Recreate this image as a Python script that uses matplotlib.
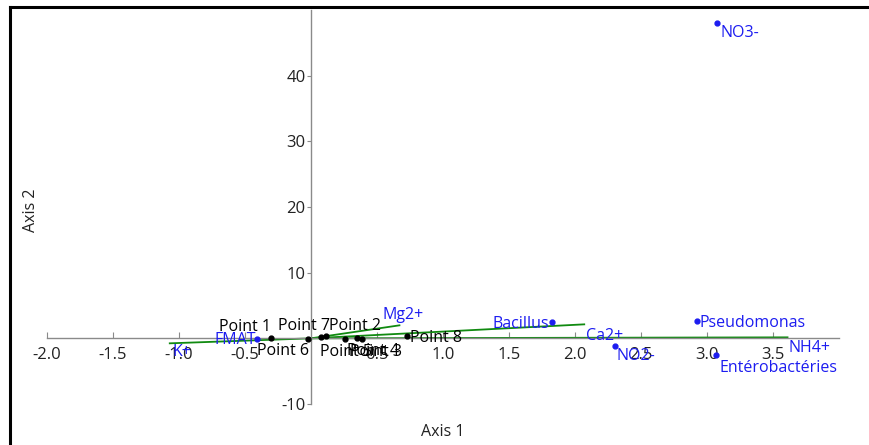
import matplotlib
matplotlib.use("Agg")
import matplotlib.pyplot as plt
from matplotlib.lines import Line2D

plt.rcParams['font.family'] = ['Open Sans', 'DejaVu Sans']

# site scores (black)
site_names = ["Point 1", "Point 2", "Point 3", "Point 4", "Point 5", "Point 6", "Point 7", "Point 8"]
site_x = [-0.305, 0.117, 0.386, 0.352, 0.261, -0.019, 0.072, 0.731]
site_y = [0.05, 0.30, -0.08, 0.08, -0.12, -0.15, 0.15, 0.33]

# species / variables drawn as dots (blue)
sp_names = ["FMAT", "Bacillus", "Pseudomonas", "Entérobactéries", "NO3-", "NO2-"]
sp_x = [-0.41, 1.826, 2.924, 3.07, 3.076, 2.30]
sp_y = [-0.15, 2.44, 2.59, -2.59, 47.95, -1.22]

# vectors from the origin (green)
vec_names = ["K+", "Mg2+", "Ca2+", "NH4+"]
vec_x = [-1.07, 0.67, 2.07, 3.61]
vec_y = [-0.76, 1.98, 2.13, 0.15]

xticks = [-2.0, -1.5, -1.0, -0.5, 0.5, 1.0, 1.5, 2.0, 2.5, 3.0, 3.5]
yticks = [-10, 10, 20, 30, 40]

# label offsets in pixels (dx, dy, ha)
site_off = {
    "Point 1": (0, 11, "right"), "Point 2": (3, 10, "left"), "Point 3": (-12, -13, "left"),
    "Point 4": (-10, -13, "left"), "Point 5": (-25, -13, "left"), "Point 6": (1, -12, "right"),
    "Point 7": (-17, 11, "center"), "Point 8": (3, -2, "left"),
}
sp_off = {
    "FMAT": (-1, -1, "right"), "Bacillus": (-3, -2, "right"), "Pseudomonas": (3, -2, "left"),
    "Entérobactéries": (3, -13, "left"), "NO3-": (3, -10, "left"), "NO2-": (2, -10, "left"),
}
vec_off = {
    "K+": (3, -9, "left"), "Mg2+": (-17, 10, "left"), "Ca2+": (2, -12, "left"), "NH4+": (1, -11, "left"),
}

fs = 11.5
W, H = 869, 445
fig = plt.figure(figsize=(W / 100, H / 100), dpi=100)
ax = fig.add_axes([47 / W, (H - 404) / H, 792 / W, 394 / H])
ax.set_xlim(-2.0, 4.0)
ax.set_ylim(-10, 50)

ax.spines['left'].set_position('zero')
ax.spines['bottom'].set_position('zero')
ax.spines['right'].set_visible(False)
ax.spines['top'].set_visible(False)
for s in ('left', 'bottom'):
    ax.spines[s].set_color('#8a8a8a')
    ax.spines[s].set_linewidth(1.0)

ax.set_xticks(xticks)
ax.set_xticklabels([f"{t:.1f}" for t in xticks])
ax.set_yticks(yticks)
ax.set_yticklabels([str(t) for t in yticks])
ax.tick_params(axis='x', direction='in', length=4, color='#8a8a8a', labelsize=fs + 0.5, pad=6, labelcolor='#222222')
ax.tick_params(axis='y', direction='out', length=3, color='#8a8a8a', labelsize=fs + 0.5, pad=1, labelcolor='#222222')

blue = '#1c1cf0'
green = '#108a10'

for name, x, y in zip(vec_names, vec_x, vec_y):
    ax.plot([0, x], [0, y], color=green, lw=1.3, zorder=2)
    dx, dy, ha = vec_off[name]
    ax.annotate(name, (x, y), xytext=(dx, dy), textcoords='offset pixels',
                ha=ha, va='center', color=blue, fontsize=fs)

ax.plot(sp_x, sp_y, 'o', color=blue, ms=3.5, zorder=3)
for name, x, y in zip(sp_names, sp_x, sp_y):
    dx, dy, ha = sp_off[name]
    ax.annotate(name, (x, y), xytext=(dx, dy), textcoords='offset pixels',
                ha=ha, va='center', color=blue, fontsize=fs)

ax.plot(site_x, site_y, 'o', color='black', ms=3.5, zorder=3)
for name, x, y in zip(site_names, site_x, site_y):
    dx, dy, ha = site_off[name]
    ax.annotate(name, (x, y), xytext=(dx, dy), textcoords='offset pixels',
                ha=ha, va='center', color='black', fontsize=fs)

fig.text(443 / W, 1 - 432 / H, "Axis 1", ha='center', va='center', fontsize=fs, color='#222222')
fig.text(31 / W, 1 - 210 / H, "Axis 2", ha='center', va='center', rotation=90, fontsize=fs, color='#222222')

# outer frame (left and top edges)
fig.add_artist(Line2D([10 / W, 10 / W], [0, 1 - 7 / H], color='black', lw=2.2, transform=fig.transFigure))
fig.add_artist(Line2D([10 / W, 1], [1 - 7 / H, 1 - 7 / H], color='black', lw=2.2, transform=fig.transFigure))

fig.savefig("out.png", dpi=100)
